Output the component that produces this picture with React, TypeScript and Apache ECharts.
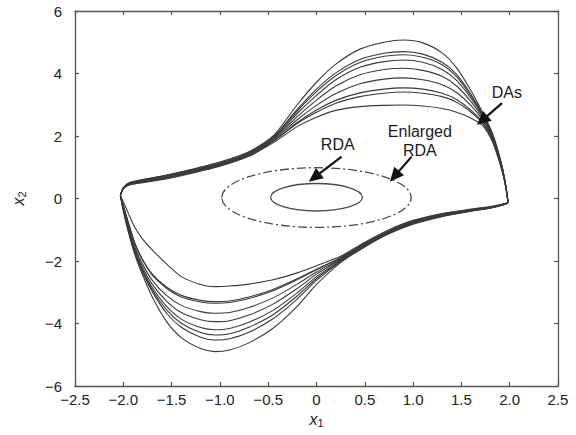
import React, { useEffect, useRef } from "react";
import * as echarts from "echarts";

// ---- axis ticks ----
const X_TICKS = [-2.5, -2.0, -1.5, -1.0, -0.5, 0, 0.5, 1.0, 1.5, 2.0, 2.5];
const X_TICK_LABELS = ["−2.5", "−2.0", "−1.5", "−1.0", "−0.5", "0", "0.5", "1.0", "1.5", "2.0", "2.5"];
const Y_TICKS = [-6, -4, -2, 0, 2, 4, 6];
const Y_TICK_LABELS = ["−6", "−4", "−2", "0", "2", "4", "6"];

// ---- DA boundaries: upper half (left corner -> right corner) ----
const UP_X = [-2.03, -2.0, -1.93, -1.6, -1.3, -1.0, -0.7, -0.45, -0.2, 0.0, 0.2, 0.45, 0.7, 0.9, 1.1, 1.3, 1.45, 1.6, 1.72, 1.82, 1.9, 1.95, 1.98];
const UP_1 = [0.10, 0.34, 0.52, 0.72, 0.93, 1.17, 1.50, 2.00, 3.00, 3.72, 4.30, 4.78, 5.00, 5.07, 4.98, 4.66, 4.18, 3.45, 2.75, 2.10, 1.30, 0.60, -0.12];
const UP_2 = [0.10, 0.34, 0.51, 0.71, 0.92, 1.15, 1.48, 1.96, 2.85, 3.50, 4.02, 4.45, 4.65, 4.70, 4.62, 4.36, 3.97, 3.33, 2.70, 2.06, 1.27, 0.58, -0.12];
const UP_3 = [0.10, 0.33, 0.50, 0.70, 0.90, 1.13, 1.46, 1.94, 2.80, 3.42, 3.93, 4.35, 4.55, 4.60, 4.52, 4.28, 3.90, 3.28, 2.67, 2.04, 1.26, 0.57, -0.12];
const UP_4 = [0.10, 0.33, 0.49, 0.68, 0.88, 1.11, 1.44, 1.92, 2.72, 3.30, 3.80, 4.20, 4.38, 4.43, 4.36, 4.13, 3.78, 3.21, 2.63, 2.01, 1.24, 0.56, -0.12];
const UP_5 = [0.10, 0.33, 0.48, 0.67, 0.87, 1.10, 1.42, 1.89, 2.62, 3.15, 3.60, 3.96, 4.13, 4.17, 4.10, 3.91, 3.60, 3.10, 2.58, 1.98, 1.22, 0.55, -0.12];
const UP_6 = [0.10, 0.32, 0.47, 0.65, 0.85, 1.08, 1.40, 1.86, 2.52, 2.98, 3.36, 3.67, 3.82, 3.86, 3.80, 3.64, 3.39, 2.97, 2.51, 1.94, 1.19, 0.54, -0.12];
const UP_7 = [0.10, 0.32, 0.46, 0.63, 0.83, 1.06, 1.38, 1.83, 2.43, 2.83, 3.14, 3.38, 3.50, 3.54, 3.50, 3.37, 3.17, 2.82, 2.44, 1.90, 1.16, 0.53, -0.12];
const UP_8 = [0.10, 0.32, 0.45, 0.62, 0.82, 1.05, 1.37, 1.82, 2.40, 2.76, 3.05, 3.26, 3.37, 3.41, 3.37, 3.26, 3.08, 2.76, 2.41, 1.88, 1.15, 0.52, -0.12];
const UP_9 = [0.10, 0.31, 0.44, 0.60, 0.80, 1.03, 1.35, 1.78, 2.30, 2.60, 2.82, 2.94, 2.98, 2.99, 2.96, 2.88, 2.76, 2.57, 2.33, 1.82, 1.10, 0.50, -0.12];

// ---- DA boundaries: lower half (right corner -> left corner) ----
const LO_X = [1.98, 1.93, 1.8, 1.6, 1.3, 1.0, 0.75, 0.5, 0.25, 0.0, -0.2, -0.45, -0.7, -0.9, -1.05, -1.2, -1.4, -1.55, -1.7, -1.8, -1.88, -1.95, -2.0, -2.03];
const LO_1 = [-0.12, -0.21, -0.31, -0.41, -0.58, -0.82, -1.13, -1.55, -2.05, -2.75, -3.45, -4.15, -4.62, -4.85, -4.90, -4.80, -4.45, -3.95, -3.15, -2.45, -1.80, -1.05, -0.40, 0.10];
const LO_2 = [-0.12, -0.21, -0.30, -0.40, -0.57, -0.80, -1.11, -1.53, -2.02, -2.62, -3.22, -3.85, -4.28, -4.49, -4.53, -4.44, -4.12, -3.68, -2.98, -2.36, -1.74, -1.00, -0.37, 0.10];
const LO_3 = [-0.12, -0.20, -0.30, -0.39, -0.56, -0.79, -1.10, -1.52, -2.00, -2.56, -3.12, -3.72, -4.12, -4.33, -4.37, -4.29, -3.99, -3.57, -2.92, -2.32, -1.71, -0.98, -0.36, 0.10];
const LO_4 = [-0.12, -0.20, -0.29, -0.38, -0.55, -0.78, -1.09, -1.50, -1.98, -2.50, -3.02, -3.58, -3.96, -4.16, -4.20, -4.13, -3.86, -3.46, -2.85, -2.28, -1.68, -0.95, -0.34, 0.10];
const LO_5 = [-0.12, -0.20, -0.28, -0.37, -0.53, -0.76, -1.07, -1.48, -1.95, -2.42, -2.88, -3.38, -3.73, -3.91, -3.94, -3.88, -3.65, -3.29, -2.75, -2.20, -1.62, -0.90, -0.31, 0.10];
const LO_6 = [-0.12, -0.19, -0.28, -0.37, -0.52, -0.75, -1.06, -1.46, -1.93, -2.35, -2.74, -3.18, -3.49, -3.65, -3.67, -3.62, -3.42, -3.11, -2.62, -2.10, -1.55, -0.84, -0.27, 0.10];
const LO_7 = [-0.12, -0.19, -0.27, -0.36, -0.51, -0.73, -1.04, -1.44, -1.90, -2.28, -2.60, -2.95, -3.20, -3.33, -3.35, -3.31, -3.15, -2.88, -2.45, -1.97, -1.45, -0.76, -0.22, 0.10];
const LO_8 = [-0.12, -0.18, -0.27, -0.35, -0.50, -0.72, -1.03, -1.43, -1.89, -2.26, -2.57, -2.91, -3.15, -3.28, -3.30, -3.26, -3.10, -2.84, -2.42, -1.95, -1.43, -0.74, -0.21, 0.10];
const LO_9 = [-0.12, -0.18, -0.26, -0.34, -0.48, -0.70, -1.00, -1.40, -1.85, -2.15, -2.38, -2.60, -2.74, -2.80, -2.82, -2.75, -2.50, -2.10, -1.65, -1.30, -0.93, -0.46, -0.10, 0.10];

const UPPER = [UP_1, UP_2, UP_3, UP_4, UP_5, UP_6, UP_7, UP_8, UP_9];
const LOWER = [LO_1, LO_2, LO_3, LO_4, LO_5, LO_6, LO_7, LO_8, LO_9];

// ---- attraction-region ellipses: [centre x1, centre x2, semi-axis x1, semi-axis x2] ----
const RDA = [[0.0, 0.04, 0.475, 0.44]];
const ENLARGED_RDA = [[0.0, 0.03, 0.98, 0.955]];

// ---- annotations ----
const NOTE_TEXTS = ["RDA", "Enlarged\nRDA", "DAs"];
const NOTE_X = [0.22, 1.07, 1.97];
const NOTE_Y = [1.72, 1.84, 3.39];
const ARROW_FROM_X = [0.26, 0.985, 1.92];
const ARROW_FROM_Y = [1.34, 1.34, 3.05];
const ARROW_TO_X = [-0.08, 0.76, 1.66];
const ARROW_TO_Y = [0.54, 0.54, 2.35];

const FONT = '"Liberation Sans", Arial, Helvetica, sans-serif';
const AXIS_COLOR = "#555";
const TEXT_COLOR = "#222";

export default function App() {
  const ref = useRef<HTMLDivElement>(null);

  useEffect(() => {
    if (!ref.current) return;
    const chart = echarts.init(ref.current, undefined, { renderer: "svg" });

    const daSeries = UPPER.map((up, i) => {
      const lo = LOWER[i];
      const data: number[][] = [];
      UP_X.forEach((x, k) => data.push([x, up[k]]));
      LO_X.forEach((x, k) => data.push([x, lo[k]]));
      data.push([UP_X[0], up[0]]);
      return {
        type: "line",
        name: "DA " + (i + 1),
        data,
        showSymbol: false,
        smooth: 0.25,
        lineStyle: { color: "#3a3a3a", width: 1.1 },
        z: 2,
      };
    });

    const ellipseRender = (dash: number[] | null) => (params: any, api: any) => {
      const c = api.coord([api.value(0), api.value(1)]);
      const s = api.size([api.value(2), api.value(3)]);
      return {
        type: "ellipse",
        shape: { cx: c[0], cy: c[1], rx: s[0], ry: s[1] },
        style: {
          fill: "none",
          stroke: "#4a4a4a",
          lineWidth: 1.3,
          lineDash: dash || undefined,
        },
      };
    };

    const xLabel = (v: number) => {
      const i = X_TICKS.findIndex((t) => Math.abs(t - v) < 1e-9);
      return i >= 0 ? X_TICK_LABELS[i] : "";
    };
    const yLabel = (v: number) => {
      const i = Y_TICKS.findIndex((t) => Math.abs(t - v) < 1e-9);
      return i >= 0 ? Y_TICK_LABELS[i] : "";
    };

    const axisLine = { show: true, onZero: false, lineStyle: { color: AXIS_COLOR, width: 1.3 } };
    const axisTick = { show: true, inside: true, length: 4, lineStyle: { color: AXIS_COLOR, width: 1.2 } };
    const nameRich = {
      i: { fontFamily: FONT, fontStyle: "italic", fontSize: 16, color: TEXT_COLOR },
      s: { fontFamily: FONT, fontSize: 11, color: TEXT_COLOR, padding: [7, 0, 0, 0] },
    };

    chart.setOption({
      animation: false,
      backgroundColor: "#fff",
      grid: { left: 75, top: 11, width: 483, height: 375, containLabel: false },
      xAxis: [
        {
          type: "value",
          min: -2.5,
          max: 2.5,
          interval: 0.5,
          position: "bottom",
          axisLine,
          axisTick,
          splitLine: { show: false },
          axisLabel: { formatter: xLabel, color: TEXT_COLOR, fontSize: 15, fontFamily: FONT, margin: 6 },
          name: "{i|x}{s|1}",
          nameLocation: "middle",
          nameGap: 12,
          nameTextStyle: { rich: nameRich },
        },
        {
          type: "value",
          min: -2.5,
          max: 2.5,
          interval: 0.5,
          position: "top",
          axisLine,
          axisTick,
          splitLine: { show: false },
          axisLabel: { show: false },
        },
      ],
      yAxis: [
        {
          type: "value",
          min: -6,
          max: 6,
          interval: 2,
          position: "left",
          axisLine,
          axisTick,
          splitLine: { show: false },
          axisLabel: { formatter: yLabel, color: TEXT_COLOR, fontSize: 15, fontFamily: FONT, margin: 13 },
          name: "{i|x}{s|2}",
          nameLocation: "middle",
          nameGap: 48,
          nameTextStyle: { rich: nameRich },
        },
        {
          type: "value",
          min: -6,
          max: 6,
          interval: 2,
          position: "right",
          axisLine,
          axisTick,
          splitLine: { show: false },
          axisLabel: { show: false },
        },
      ],
      series: [
        ...daSeries,
        {
          type: "custom",
          name: "RDA",
          data: RDA,
          renderItem: ellipseRender(null),
          z: 3,
        },
        {
          type: "custom",
          name: "Enlarged RDA",
          data: ENLARGED_RDA,
          renderItem: ellipseRender([9, 3, 2, 3]),
          z: 3,
        },
        {
          type: "custom",
          name: "arrows",
          data: ARROW_FROM_X.map((x, i) => [x, ARROW_FROM_Y[i], ARROW_TO_X[i], ARROW_TO_Y[i]]),
          clip: false,
          z: 5,
          renderItem: (params: any, api: any) => {
            const p0 = api.coord([api.value(0), api.value(1)]);
            const p1 = api.coord([api.value(2), api.value(3)]);
            const dx = p1[0] - p0[0];
            const dy = p1[1] - p0[1];
            const len = Math.hypot(dx, dy) || 1;
            const ux = dx / len;
            const uy = dy / len;
            const headL = 14;
            const headW = 6.5;
            const bx = p1[0] - ux * headL;
            const by = p1[1] - uy * headL;
            return {
              type: "group",
              children: [
                {
                  type: "line",
                  shape: { x1: p0[0], y1: p0[1], x2: bx + ux * 2, y2: by + uy * 2 },
                  style: { stroke: "#111", lineWidth: 2.2 },
                },
                {
                  type: "polygon",
                  shape: {
                    points: [
                      [p1[0], p1[1]],
                      [bx - uy * headW, by + ux * headW],
                      [bx + uy * headW, by - ux * headW],
                    ],
                  },
                  style: { fill: "#111" },
                },
              ],
            };
          },
        },
        {
          type: "custom",
          name: "notes",
          data: NOTE_X.map((x, i) => [x, NOTE_Y[i], i]),
          clip: false,
          z: 6,
          renderItem: (params: any, api: any) => {
            const p = api.coord([api.value(0), api.value(1)]);
            return {
              type: "text",
              x: p[0],
              y: p[1],
              style: {
                text: NOTE_TEXTS[api.value(2)],
                font: "16px " + FONT,
                fill: "#1a1a1a",
                align: "center",
                verticalAlign: "middle",
                lineHeight: 19,
              },
            };
          },
        },
      ],
    });

    return () => chart.dispose();
  }, []);

  return (
    <div
      ref={ref}
      style={{ position: "fixed", left: 0, top: 0, width: 576, height: 435 }}
    />
  );
}
